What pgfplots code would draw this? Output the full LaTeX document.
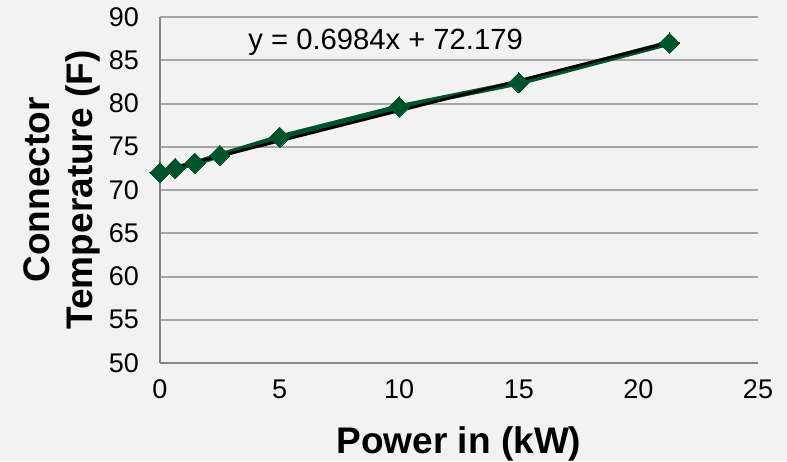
\documentclass[border=0pt]{standalone}
\usepackage{fontspec}
\setmainfont{Liberation Sans}
\usepackage{pgfplots}
\pgfplotsset{compat=1.18}
\definecolor{bggray}{HTML}{F2F2F2}
\definecolor{gridgray}{HTML}{A6A6A6}
\definecolor{axgray}{HTML}{868686}
\definecolor{sergreen}{HTML}{00532B}
\begin{document}
\begin{tikzpicture}
\path[use as bounding box, fill=bggray] (-80pt,-49pt) rectangle (313.5pt,181.5pt);
\begin{axis}[
  at={(0,0)}, anchor=south west,
  scale only axis, width=299pt, height=173pt,
  xmin=0, xmax=25, ymin=50, ymax=90,
  xtick={0,5,...,25}, ytick={50,55,...,90},
  axis x line*=bottom, axis y line*=left,
  axis line style={axgray, line width=1pt},
  x axis line style={-}, y axis line style={-},
  major tick length=0pt,
  ymajorgrids, grid style={gridgray, line width=1pt},
  tick label style={font=\fontsize{13.5}{16}\selectfont, black},
  /pgf/number format/assume math mode=true,
  yticklabel style={xshift=-7pt},
  xticklabel style={yshift=-5pt},
  xlabel={Power in (kW)},
  xlabel style={font=\bfseries\fontsize{18.5}{22}\selectfont, at={(axis description cs:0.5,-0.262)}, anchor=base},
  ylabel={Connector\\Temperature (F)},
  ylabel style={font=\bfseries\fontsize{18.5}{21.5}\selectfont, align=center, at={(axis description cs:-0.164,0.5)}, anchor=center},
  clip=false,
]
\addplot[sergreen, line width=2.75pt, mark=square*, mark size=3.6pt, mark options={rotate=45, solid, fill=sergreen, draw=sergreen, line width=0pt}]
  coordinates {(0,72.0) (0.63,72.5) (1.46,73.1) (2.5,74.0) (5,76.1) (10,79.6) (15,82.4) (21.3,87.0)};
\addplot[black, line width=1.4pt] coordinates {(0,72.179) (21.3,87.055)};
\node[anchor=base west, font=\fontsize{14.6}{17}\selectfont, inner sep=0pt] at (axis cs:3.68,86.2) {y = 0.6984x + 72.179};
\end{axis}
\end{tikzpicture}
\end{document}
